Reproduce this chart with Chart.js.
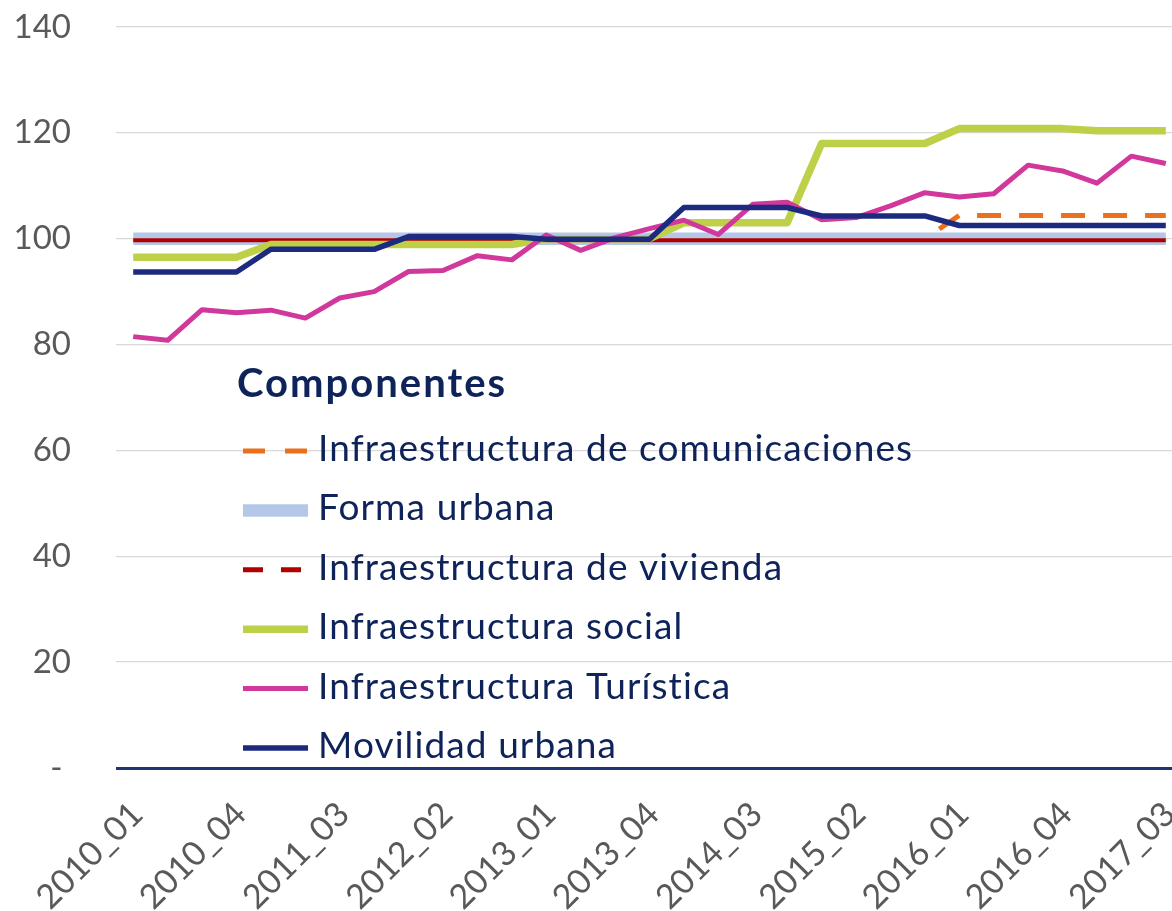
<!DOCTYPE html>
<html>
<head>
<meta charset="utf-8">
<script src="https://cdn.jsdelivr.net/npm/chart.js@4.4.1/dist/chart.umd.min.js"></script>
<style>
  html, body { margin: 0; padding: 0; background: #fff; overflow: hidden; }
  #contenedor { width: 1183px; height: 911px; }
</style>
</head>
<body>
<div id="contenedor"><canvas id="grafico" width="1183" height="911"></canvas></div>
<script>
const trimestres = [
  '2010_01', '2010_02', '2010_03', '2010_04',
  '2011_01', '2011_02', '2011_03', '2011_04',
  '2012_01', '2012_02', '2012_03', '2012_04',
  '2013_01', '2013_02', '2013_03', '2013_04',
  '2014_01', '2014_02', '2014_03', '2014_04',
  '2015_01', '2015_02', '2015_03', '2015_04',
  '2016_01', '2016_02', '2016_03', '2016_04',
  '2017_01', '2017_02', '2017_03'
];

const comunicaciones = [
  100, 100, 100, 100, 100, 100, 100, 100, 100, 100, 100, 100, 100, 100, 100, 100,
  100, 100, 100, 100, 100, 100, 100, 100, 104.4, 104.4, 104.4, 104.4, 104.4, 104.4, 104.4
];
const formaUrbana = [
  100, 100, 100, 100, 100, 100, 100, 100, 100, 100, 100, 100, 100, 100, 100, 100,
  100, 100, 100, 100, 100, 100, 100, 100, 100, 100, 100, 100, 100, 100, 100
];
const vivienda = [
  99.7, 99.7, 99.7, 99.7, 99.7, 99.7, 99.7, 99.7, 99.7, 99.7, 99.7, 99.7, 99.7, 99.7, 99.7, 99.7,
  99.7, 99.7, 99.7, 99.7, 99.7, 99.7, 99.7, 99.7, 99.7, 99.7, 99.7, 99.7, 99.7, 99.7, 99.7
];
const social = [
  96.5, 96.5, 96.5, 96.5, 98.9, 98.9, 98.9, 98.9, 98.9, 98.9, 98.9, 98.9, 100, 100, 100, 100,
  103, 103, 103, 103, 118, 118, 118, 118, 120.8, 120.8, 120.8, 120.8, 120.4, 120.4, 120.4
];
const turistica = [
  81.5, 80.8, 86.6, 86.0, 86.5, 85.0, 88.8, 90.0, 93.8, 94.0, 96.8, 96.0, 100.7, 97.8, 100.2, 101.9,
  103.5, 100.8, 106.5, 106.9, 103.6, 104.0, 106.2, 108.7, 107.9, 108.5, 113.9, 112.8, 110.5, 115.6, 114.2
];
const movilidad = [
  93.7, 93.7, 93.7, 93.7, 98.0, 98.0, 98.0, 98.0, 100.4, 100.4, 100.4, 100.4, 99.9, 99.9, 99.9, 99.9,
  105.9, 105.9, 105.9, 105.9, 104.3, 104.3, 104.3, 104.3, 102.5, 102.5, 102.5, 102.5, 102.5, 102.5, 102.5
];

const FUENTE = 'Lato, "Open Sans", sans-serif';
const GRIS = '#595959';
const AZUL_TEXTO = '#0e2359';

// leyenda dibujada dentro del área del gráfico
const leyenda = {
  id: 'leyenda',
  afterDraw(chart) {
    const ctx = chart.ctx;
    ctx.save();
    ctx.fillStyle = AZUL_TEXTO;
    ctx.textAlign = 'left';
    ctx.textBaseline = 'alphabetic';
    ctx.font = 'bold 40px ' + FUENTE;
    ctx.letterSpacing = '2px';
    ctx.fillText('Componentes', 237, 397);
    ctx.font = '37px ' + FUENTE;
    ctx.letterSpacing = '1.1px';
    chart.data.datasets.forEach((ds, i) => {
      const y = 451 + i * 59.4;
      ctx.beginPath();
      ctx.strokeStyle = ds.borderColor;
      ctx.lineWidth = ds.anchoLeyenda || ds.borderWidth;
      ctx.setLineDash(ds.guionLeyenda || []);
      ctx.moveTo(243, y);
      ctx.lineTo(308, y);
      ctx.stroke();
      ctx.setLineDash([]);
      ctx.fillText(ds.label, 318, y + 10);
    });
    ctx.restore();
  }
};

new Chart(document.getElementById('grafico'), {
  type: 'line',
  data: {
    labels: trimestres,
    datasets: [
      {
        label: 'Infraestructura de comunicaciones',
        data: comunicaciones,
        borderColor: '#ec6f1c',
        borderWidth: 5,
        borderDash: [24, 18],
        borderDashOffset: 31,
        guionLeyenda: [22, 20],
        order: 6
      },
      {
        label: 'Forma urbana',
        data: formaUrbana,
        borderColor: '#b4c7e7',
        borderWidth: 12.5,
        order: 5
      },
      {
        label: 'Infraestructura de vivienda',
        data: vivienda,
        borderColor: '#b00000',
        borderWidth: 4,
        anchoLeyenda: 5,
        guionLeyenda: [20, 18],
        order: 4
      },
      {
        label: 'Infraestructura social',
        data: social,
        borderColor: '#bdd048',
        borderWidth: 7.5,
        order: 3
      },
      {
        label: 'Infraestructura Turística',
        data: turistica,
        borderColor: '#d0399b',
        borderWidth: 5,
        order: 2
      },
      {
        label: 'Movilidad urbana',
        data: movilidad,
        borderColor: '#1c2a80',
        borderWidth: 5.5,
        order: 1
      }
    ]
  },
  options: {
    responsive: false,
    animation: false,
    layout: { padding: { top: 27, right: 0, bottom: 0, left: 0 } },
    elements: {
      point: { radius: 0 },
      line: { tension: 0, borderJoinStyle: 'round', borderCapStyle: 'butt' }
    },
    plugins: {
      legend: { display: false },
      tooltip: { enabled: false }
    },
    scales: {
      x: {
        offset: true,
        grid: { display: false },
        border: { display: false },
        ticks: {
          autoSkip: false,
          maxRotation: 45,
          minRotation: 45,
          padding: 18,
          labelOffset: 4,
          color: GRIS,
          font: { family: FUENTE, size: 34 },
          callback: function (valor, i) {
            return i % 3 === 0 ? this.getLabelForValue(valor) : '';
          }
        },
        afterFit: (escala) => {
          escala.height = 143;
          escala.paddingLeft = 0;
          escala.paddingRight = 0;
        }
      },
      y: {
        min: 0,
        max: 140,
        border: { display: false },
        grid: {
          drawTicks: false,
          color: (c) => (c.tick && c.tick.value === 0 ? '#1f3470' : '#d9d9d9'),
          lineWidth: (c) => (c.tick && c.tick.value === 0 ? 3 : 1.3)
        },
        ticks: {
          stepSize: 20,
          padding: 45,
          color: GRIS,
          font: { family: FUENTE, size: 33 },
          callback: (v) => (v === 0 ? '- ' : v)
        },
        afterFit: (escala) => {
          escala.width = 116;
          escala.paddingTop = 0;
          escala.paddingBottom = 0;
        }
      }
    }
  },
  plugins: [leyenda]
});
</script>
</body>
</html>
